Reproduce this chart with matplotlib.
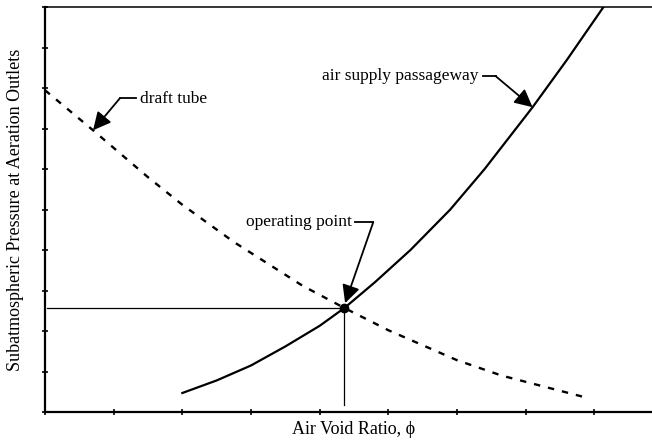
import matplotlib.pyplot as plt

plt.rcParams['font.family'] = ['Liberation Serif', 'DejaVu Serif']

# air supply passageway curve (solid)
phi_supply = [2.0, 2.5, 3.0, 3.5, 4.0, 4.36, 4.8, 5.32, 5.9, 6.4, 7.1, 7.6, 8.13]
p_supply = [0.47, 0.78, 1.15, 1.62, 2.13, 2.57, 3.2, 4.0, 5.0, 6.0, 7.53, 8.7, 10.0]

# draft tube curve (dashed)
phi_draft = [0.0, 0.7, 1.5, 2.0, 2.75, 3.75, 4.36, 5.0, 6.0, 6.65, 7.85]
p_draft = [7.95, 6.96, 5.8, 5.12, 4.2, 3.12, 2.57, 2.02, 1.28, 0.9, 0.37]

# operating point
op_phi = 4.36
op_p = 2.57

x_ticks = list(range(0, 10))
y_ticks = list(range(0, 11))

fig = plt.figure(figsize=(6.52, 4.4), dpi=100)
ax = fig.add_axes([0.069, 0.0636, 0.948, 0.920])

ax.plot(phi_supply, p_supply, color='black', lw=1.6)
ax.plot(phi_draft, p_draft, color='black', lw=1.7, linestyle=(0, (2.7, 3.4)))

# guide lines to the operating point
ax.plot([0.03, op_phi], [op_p, op_p], color='black', lw=0.9)
ax.plot([op_phi, op_phi], [op_p, 0.17], color='black', lw=0.9)
ax.plot([op_phi], [op_p], 'o', color='black', markersize=6)

fs = 12.5
arrow = dict(arrowstyle='-|>,head_length=0.6,head_width=0.3', color='black',
             lw=1.3, mutation_scale=18, shrinkA=0, shrinkB=0)

# draft tube label
ax.text(1.385, 7.73, 'draft tube', fontsize=fs, va='center', ha='left')
ax.plot([1.09, 1.33], [7.75, 7.75], color='black', lw=1.3)
ax.annotate('', xy=(0.70, 6.96), xytext=(1.09, 7.75), arrowprops=arrow)

# operating point label
ax.text(4.47, 4.69, 'operating point', fontsize=fs, va='center', ha='right')
ax.plot([4.52, 4.78], [4.69, 4.69], color='black', lw=1.3)
ax.annotate('', xy=(4.37, 2.69), xytext=(4.78, 4.69), arrowprops=arrow)

# air supply label
ax.text(6.31, 8.30, 'air supply passageway', fontsize=fs, va='center', ha='right')
ax.plot([6.38, 6.56], [8.30, 8.30], color='black', lw=1.3)
ax.annotate('', xy=(7.10, 7.53), xytext=(6.56, 8.30), arrowprops=arrow)

ax.set_xlim(0, 9)
ax.set_ylim(0, 10)
ax.set_xticks(x_ticks)
ax.set_yticks(y_ticks)
ax.set_xticklabels([])
ax.set_yticklabels([])
ax.tick_params(direction='inout', length=5, width=1.2, color='black')

ax.spines['right'].set_visible(False)
ax.spines['top'].set_linewidth(1.1)
ax.spines['left'].set_linewidth(1.6)
ax.spines['bottom'].set_linewidth(1.6)

ax.set_xlabel('Air Void Ratio, \u03d5', fontsize=13)
ax.set_ylabel('Subatmospheric Pressure at Aeration Outlets', fontsize=13)
ax.xaxis.set_label_coords(0.5, -0.022)
ax.yaxis.set_label_coords(-0.034, 0.5)

fig.savefig('out.png', dpi=100)
